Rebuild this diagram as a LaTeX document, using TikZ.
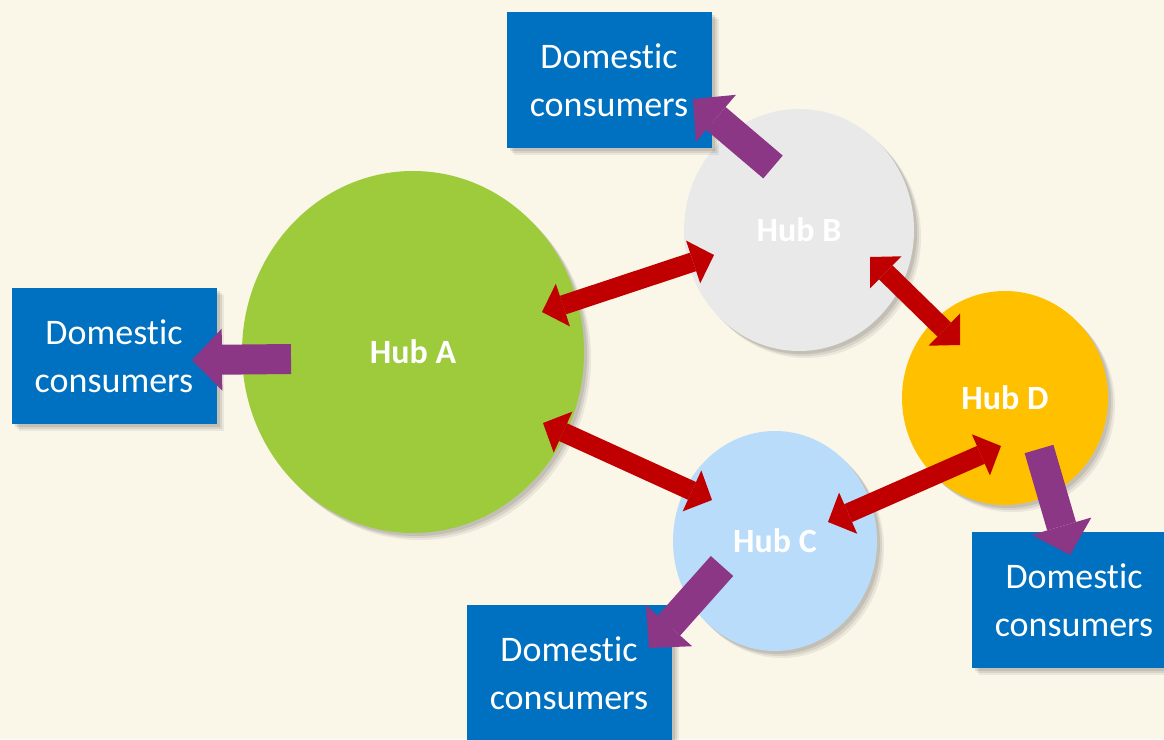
\documentclass[tikz,border=0pt]{standalone}
\usepackage{fontspec}
\setmainfont{Carlito}[Ligatures={NoCommon}]
\usetikzlibrary{shapes.geometric,shadows,arrows.meta}
\definecolor{bg}{HTML}{FAF6E8}
\definecolor{hubgreen}{HTML}{9DCB3B}
\definecolor{hubgray}{HTML}{E9E9E9}
\definecolor{hubgold}{HTML}{FFC000}
\definecolor{hubsky}{HTML}{B8DCFA}
\definecolor{boxblue}{HTML}{0070C0}
\definecolor{linkred}{HTML}{C00000}
\definecolor{feedpurple}{HTML}{8C3786}
\begin{document}
\begin{tikzpicture}[x=1pt,y=-1pt,
  softshadow/.style={
    general shadow={fill=black!80, opacity=0.08, shadow xshift=7pt, shadow yshift=-7pt},
    general shadow={fill=black!80, opacity=0.10, shadow xshift=5pt, shadow yshift=-5pt},
    general shadow={fill=black!80, opacity=0.12, shadow xshift=3pt, shadow yshift=-3pt}},
  hub/.style={ellipse, inner sep=0pt, text=white, font=\fontsize{34}{40}\selectfont\bfseries, softshadow},
  box/.style={rectangle, fill=boxblue, text=white, minimum width=205pt, minimum height=136pt,
    inner sep=0pt, align=center, font=\fontsize{36}{48}\selectfont, softshadow},
  link/.style={draw=linkred, line width=19.5pt,
    {Triangle[width=45pt,length=22pt,line width=0pt]}-{Triangle[width=45pt,length=22pt,line width=0pt]}},
  feed/.style={draw=feedpurple, line width=30pt, -{Triangle[width=62pt,length=30pt,line width=0pt]}},
]
\clip (0,0) rectangle (1164,739);
\fill[bg] (0,0) rectangle (1164,739);

% hubs
\node[hub, fill=hubgreen, minimum width=342pt, minimum height=362pt] (A) at (413,352) {Hub A};
\node[hub, fill=hubgray,  minimum width=230pt, minimum height=242pt] (B) at (799,230) {Hub B};
\node[hub, fill=hubgold,  minimum width=206pt, minimum height=214pt] (D) at (1005,398) {Hub D};
\node[hub, fill=hubsky,   minimum width=204pt, minimum height=220pt] (C) at (775,541) {Hub C};

% consumer boxes
\node[box] (cB) at (609,80)  {Domestic\\consumers};
\node[box] (cA) at (114,356) {Domestic\\consumers};
\node[box] (cD) at (1074,600) {Domestic\\consumers};
\node[box] (cC) at (569,673) {Domestic\\consumers};

% link end points
\coordinate (ab1) at (542,312);
\coordinate (ab2) at (714,255);
\coordinate (bd1) at (870,257);
\coordinate (bd2) at (960,345);
\coordinate (ac1) at (543,423);
\coordinate (ac2) at (712,500);
\coordinate (cd1) at (828,522);
\coordinate (cd2) at (1001,446);

\draw[link] (ab1) -- (ab2);
\draw[link] (bd1) -- (bd2);
\draw[link] (ac1) -- (ac2);
\draw[link] (cd1) -- (cd2);

% feed arrows
\coordinate (fB1) at (773,167);
\coordinate (fB2) at (693,99);
\coordinate (fA1) at (291,359);
\coordinate (fA2) at (192,360);
\coordinate (fD1) at (1039,449);
\coordinate (fD2) at (1070,555);
\coordinate (fC1) at (722,566);
\coordinate (fC2) at (649,648);

\draw[feed] (fB1) -- (fB2);
\draw[feed] (fA1) -- (fA2);
\draw[feed] (fD1) -- (fD2);
\draw[feed] (fC1) -- (fC2);
\end{tikzpicture}
\end{document}
